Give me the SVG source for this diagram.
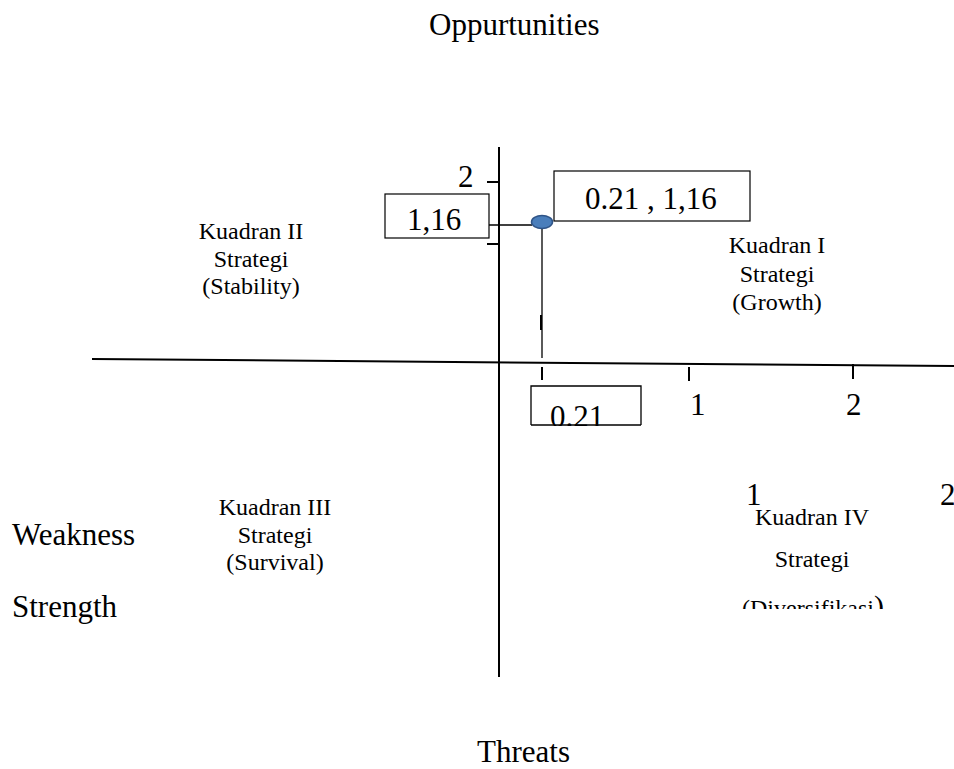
<svg xmlns="http://www.w3.org/2000/svg" width="954" height="769" viewBox="0 0 954 769">
<style>
text{font-family:"Liberation Serif","Times New Roman",serif;fill:#000}
.big{font-size:31px}
.q{font-size:24px;text-anchor:middle}
.ax{stroke:#000;stroke-width:2;fill:none}
.tk{stroke:#000;stroke-width:2}
.box{fill:#fff;stroke:#000;stroke-width:1.2}
.ln{stroke:#000;stroke-width:1.3;fill:none}
</style>
<defs>
<clipPath id="clipDiv"><rect x="700" y="580" width="254" height="29"/></clipPath>
<clipPath id="clip021"><rect x="531" y="386" width="110" height="40"/></clipPath>
</defs>
<rect width="954" height="769" fill="#fff"/>
<g id="axes">
<line class="ax" x1="92" y1="359" x2="954" y2="366"/>
<line class="ax" x1="499" y1="147" x2="499" y2="677"/>
</g>
<g id="ticks">
<line class="tk" x1="487" y1="182" x2="499" y2="182"/>
<line class="tk" x1="487" y1="244" x2="499" y2="244"/>
<line class="tk" x1="542" y1="367" x2="542" y2="380"/>
<line class="tk" x1="689" y1="367" x2="689" y2="381"/>
<line class="tk" x1="853" y1="364" x2="853" y2="379"/>
<line class="tk" x1="541" y1="315" x2="541" y2="330"/>
</g>
<g id="connectors">
<line class="ln" x1="489" y1="225" x2="532" y2="225"/>
<line class="ln" x1="542" y1="229" x2="542" y2="358"/>
</g>
<g id="labels">
<text class="big" x="429" y="35">Oppurtunities</text>
<text class="big" x="477" y="762">Threats</text>
<text class="big" x="12" y="545">Weakness</text>
<text class="big" x="12" y="617">Strength</text>
<text class="big" x="458" y="187">2</text>
<text class="big" x="690" y="415">1</text>
<text class="big" x="846" y="415">2</text>
<text class="big" x="746" y="505">1</text>
<text class="big" x="940" y="505">2</text>
</g>
<g id="kuadran1">
<text class="q" x="777" y="253">Kuadran I</text>
<text class="q" x="777" y="282">Strategi</text>
<text class="q" x="777" y="310">(Growth)</text>
</g>
<g id="kuadran2">
<text class="q" x="251" y="239">Kuadran II</text>
<text class="q" x="251" y="267">Strategi</text>
<text class="q" x="251" y="294">(Stability)</text>
</g>
<g id="kuadran3">
<text class="q" x="275" y="515">Kuadran III</text>
<text class="q" x="275" y="543">Strategi</text>
<text class="q" x="275" y="570">(Survival)</text>
</g>
<g id="kuadran4">
<text class="q" x="812" y="525">Kuadran IV</text>
<text class="q" x="812" y="567">Strategi</text>
<g clip-path="url(#clipDiv)">
<text style="font-size:24px" x="742" y="616">(Diversifikasi<tspan style="font-size:30px">)</tspan></text>
</g>
</g>
<g id="box116">
<rect class="box" x="385" y="194" width="104" height="44"/>
<text class="big" x="407" y="230">1,16</text>
</g>
<g id="boxpoint">
<rect class="box" x="554" y="171" width="196" height="50"/>
<text class="big" x="585" y="209">0.21 , 1,16</text>
</g>
<g id="box021">
<path class="ln" d="M531,425 V386 H641 V425"/>
<line class="ln" x1="531" y1="425" x2="641" y2="425"/>
<g clip-path="url(#clip021)">
<text class="big" x="550" y="427">0.21</text>
</g>
</g>
<g id="point">
<ellipse cx="542" cy="222" rx="10.5" ry="6.5" fill="#4a7ebb" stroke="#2f5487" stroke-width="1.5"/>
</g>
</svg>
